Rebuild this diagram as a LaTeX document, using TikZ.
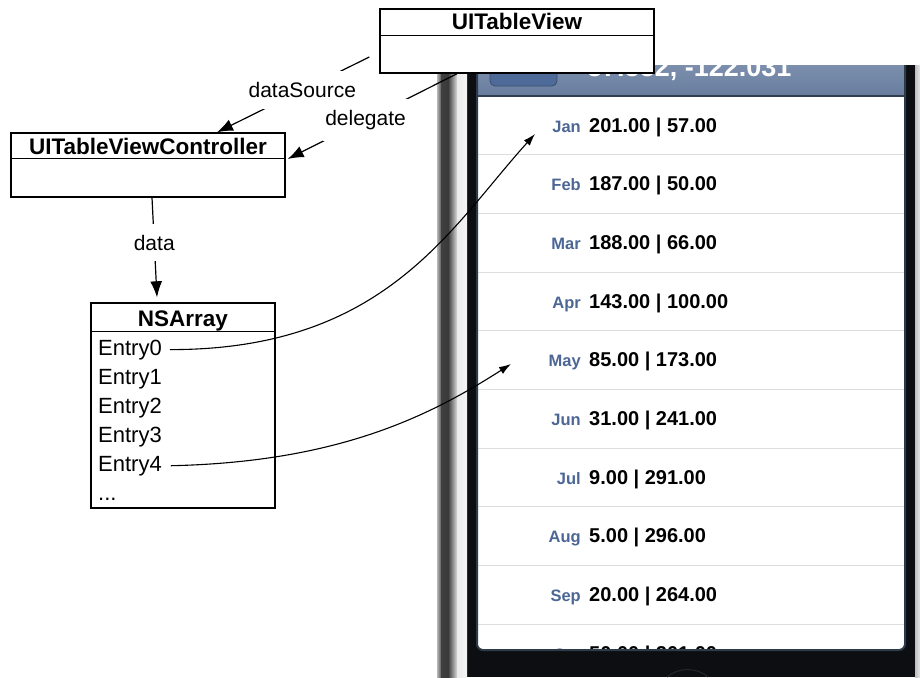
\documentclass[tikz,border=0pt]{standalone}
\usepackage{fontspec}
\setmainfont{Liberation Sans}
\usetikzlibrary{arrows.meta}
\definecolor{monthblue}{RGB}{76,102,150}
\definecolor{navtop}{RGB}{133,151,180}
\definecolor{navbot}{RGB}{104,125,158}
\definecolor{navedge}{RGB}{50,62,80}
\definecolor{backbtn}{RGB}{78,106,152}
\definecolor{backedge}{RGB}{58,78,112}
\definecolor{phoneblack}{RGB}{12,14,17}
\definecolor{screenedge}{RGB}{44,58,74}
\definecolor{sepgray}{RGB}{222,222,222}
\begin{document}
\begin{tikzpicture}[x=1pt,y=-1pt,
  umlbox/.style={draw=black, line width=1.4pt, fill=white, inner sep=0pt},
  divline/.style={draw=black, line width=1.2pt},
  boxtitle/.style={font=\fontsize{22.5}{24}\selectfont\bfseries, inner sep=0pt, anchor=base},
  entry/.style={font=\fontsize{22}{24}\selectfont, inner sep=0pt, anchor=base west},
  lbl/.style={font=\fontsize{21}{24}\selectfont, fill=white, inner xsep=2pt, inner ysep=11pt},
  conn/.style={draw=black, line width=1.2pt, -{Latex[length=16pt,width=12pt]}},
  curv/.style={draw=black, line width=1.1pt, -{Latex[length=12pt,width=8pt]}},
  month/.style={font=\fontsize{16.5}{18}\selectfont\bfseries, text=monthblue, anchor=base east, inner sep=0pt},
  val/.style={font=\fontsize{20}{22}\selectfont\bfseries, text=black, anchor=base west, inner sep=0pt},
  navtitle/.style={font=\fontsize{27}{30}\selectfont\bfseries, text=white, anchor=base west, inner sep=0pt},
  sepline/.style={draw=sepgray, line width=1pt},
]
\useasboundingbox (0,0) rectangle (920,677);
\fill[white] (0,0) rectangle (920,677);

% ---------- phone ----------
\fill[phoneblack] (467,65) rectangle (915,677);
\shade[left color=black!28, right color=black!65] (437,65) rectangle (441,677);
\shade[left color=black!75, right color=black!78] (441,65) rectangle (449,677);
\shade[left color=black!70, right color=black!15] (449,65) rectangle (457,677);
\shade[left color=black!8, right color=black!4] (457,65) rectangle (467,677);
\shade[left color=black!25, right color=black!10] (915,65) rectangle (920,677);
\draw[black!85, line width=1pt] (667,677) arc[start angle=-130, end angle=-50, radius=32];

\begin{scope}
  \clip (0,65) rectangle (920,677);
  \clip[rounded corners=6pt] (477,50) rectangle (905,650);
  \fill[white] (477,50) rectangle (905,650);
  \shade[top color=navtop, bottom color=navbot] (477,50) rectangle (905,96);
  \draw[navedge, line width=1.2pt] (477,96) -- (905,96);
  \filldraw[fill=backbtn, draw=backedge, line width=0.8pt, rounded corners=5pt] (490,50) rectangle (557,86);
  \node[navtitle] (navt) at (587,77) {37.332, -122.031};
  \foreach \k in {1,...,9} \draw[sepline] (477,{96+58.7*\k}) -- (905,{96+58.7*\k});
  \foreach \m/\v [count=\i from 0] in {Jan/201.00 | 57.00, Feb/187.00 | 50.00, Mar/188.00 | 66.00, Apr/143.00 | 100.00, May/85.00 | 173.00, Jun/31.00 | 241.00, Jul/9.00 | 291.00, Aug/5.00 | 296.00, Sep/20.00 | 264.00, Oct/50.00 | 201.00}{
    \node[month] (m\i) at (581,{132+58.7*\i}) {\m};
    \node[val] (v\i) at (589,{132+58.7*\i}) {\v};
  }
\end{scope}
\draw[screenedge, line width=2pt, rounded corners=6pt] (477,65) -- (477,650) -- (905,650) -- (905,65);

% ---------- diagram ----------
\node[umlbox, minimum width=274pt, minimum height=64pt] (tv) at (517,41) {};
\draw[divline] ([yshift=-27pt]tv.north west) -- ([yshift=-27pt]tv.north east);
\node[boxtitle] (tvt) at (517,30) {UITableView};

\node[umlbox, minimum width=274pt, minimum height=64pt] (tvc) at (148,165) {};
\draw[divline] ([yshift=-26pt]tvc.north west) -- ([yshift=-26pt]tvc.north east);
\node[boxtitle] (tvct) at (148,154) {UITableViewController};

\node[umlbox, minimum width=184pt, minimum height=205pt] (na) at (183,405.5) {};
\draw[divline] ([yshift=-29pt]na.north west) -- ([yshift=-29pt]na.north east);
\node[boxtitle] (nat) at (183,326) {NSArray};

\node[entry] (e0) at (98,355) {Entry0};
\node[entry] (e1) at (98,384) {Entry1};
\node[entry] (e2) at (98,413) {Entry2};
\node[entry] (e3) at (98,442) {Entry3};
\node[entry] (e4) at (98,471) {Entry4};
\node[entry] (e5) at (98,500) {...};

\coordinate (janpt) at (535,134);
\coordinate (maypt) at (511,364);

\draw[conn] ([xshift=-10pt,yshift=-16pt]tv.west) -- node[lbl, pos=0.44] (lds) {dataSource} ([xshift=69pt]tvc.north);
\draw[conn] ([xshift=-60pt]tv.south) -- node[lbl, pos=0.54] (ldg) {delegate} ([xshift=2pt,yshift=6pt]tvc.east);
\draw[conn] ([xshift=4pt]tvc.south) -- node[lbl, pos=0.45] (ldt) {data} ([xshift=-26pt,yshift=5pt]na.north);

\draw[curv] ([xshift=8pt]e0.east) .. controls (385,350) and (450,228) .. (janpt);
\draw[curv] ([xshift=9pt]e4.east) .. controls (340,462) and (431,415) .. (maypt);
\end{tikzpicture}
\end{document}
